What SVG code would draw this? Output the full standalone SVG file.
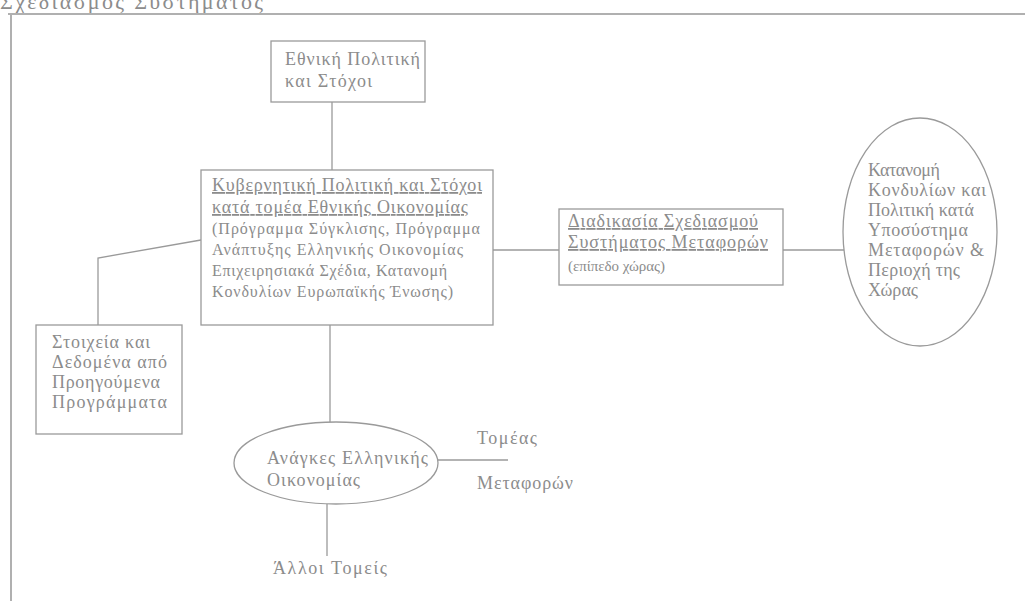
<svg xmlns="http://www.w3.org/2000/svg" width="1025" height="601" viewBox="0 0 1025 601">
<style>
text{font-family:"Liberation Serif","DejaVu Serif",serif;fill:#8c8c8c;font-size:18px}
.u{text-decoration:underline}
.s{font-size:16px}
.xs{font-size:15px}
.box{fill:#fff;stroke:#9a9a9a;stroke-width:1.3}
.ln{fill:none;stroke:#9a9a9a;stroke-width:1.3}
.frame{fill:none;stroke:#b0b0b0;stroke-width:2}
</style>
<rect width="1025" height="601" fill="#fff"/>
<text x="0" y="9" style="font-size:22px" textLength="263" lengthAdjust="spacing">Σχεδιασμός Συστήματος</text>
<path class="frame" d="M8,14 H1025 M11,14 V601"/>
<g id="connectors">
<path class="ln" d="M332,102 V170"/>
<path class="ln" d="M201,240 L98,258 V325"/>
<path class="ln" d="M493,250 H559"/>
<path class="ln" d="M783,250 H844"/>
<path class="ln" d="M330,325 V422"/>
<path class="ln" d="M327,504 V556"/>
<path class="ln" d="M438,460 H508"/>
</g>
<g id="national">
<rect class="box" x="271" y="41" width="154" height="61"/>
<text x="285" y="65" textLength="135" lengthAdjust="spacing">Εθνική Πολιτική</text>
<text x="285" y="87" textLength="87" lengthAdjust="spacing">και  Στόχοι</text>
</g>
<g id="government">
<rect class="box" x="201" y="170" width="292" height="155"/>
<text class="u" x="212" y="191" textLength="270" lengthAdjust="spacing">Κυβερνητική Πολιτική και Στόχοι</text>
<text class="u" x="212" y="213" textLength="256" lengthAdjust="spacing">κατά τομέα Εθνικής Οικονομίας</text>
<text class="s" x="212" y="234" textLength="268" lengthAdjust="spacing">(Πρόγραμμα Σύγκλισης, Πρόγραμμα</text>
<text class="s" x="212" y="255" textLength="251" lengthAdjust="spacing">Ανάπτυξης Ελληνικής Οικονομίας</text>
<text class="s" x="212" y="276" textLength="235" lengthAdjust="spacing">Επιχειρησιακά Σχέδια, Κατανομή</text>
<text class="s" x="212" y="297" textLength="241" lengthAdjust="spacing">Κονδυλίων Ευρωπαϊκής Ένωσης)</text>
</g>
<g id="data">
<rect class="box" x="36" y="325" width="146" height="109"/>
<text x="52" y="348" textLength="98" lengthAdjust="spacing">Στοιχεία και</text>
<text x="52" y="368" textLength="115" lengthAdjust="spacing">Δεδομένα από</text>
<text x="52" y="388" textLength="108" lengthAdjust="spacing">Προηγούμενα</text>
<text x="52" y="408" textLength="115" lengthAdjust="spacing">Προγράμματα</text>
</g>
<g id="planning">
<rect class="box" x="559" y="209" width="224" height="76"/>
<text class="u" x="568" y="227" textLength="190" lengthAdjust="spacing">Διαδικασία Σχεδιασμού</text>
<text class="u" x="568" y="248" textLength="200" lengthAdjust="spacing">Συστήματος Μεταφορών</text>
<text class="xs" x="568" y="271" textLength="97" lengthAdjust="spacing">(επίπεδο χώρας)</text>
</g>
<g id="allocation">
<ellipse class="box" cx="920" cy="232" rx="77" ry="114"/>
<text x="868" y="176" textLength="72" lengthAdjust="spacing">Κατανομή</text>
<text x="868" y="196" textLength="118" lengthAdjust="spacing">Κονδυλίων και</text>
<text x="868" y="216" textLength="106" lengthAdjust="spacing">Πολιτική κατά</text>
<text x="868" y="236" textLength="100" lengthAdjust="spacing">Υποσύστημα</text>
<text x="868" y="256" textLength="116" lengthAdjust="spacing">Μεταφορών &amp;</text>
<text x="868" y="276" textLength="92" lengthAdjust="spacing">Περιοχή της</text>
<text x="868" y="296" textLength="50" lengthAdjust="spacing">Χώρας</text>
</g>
<g id="needs">
<ellipse class="box" cx="336" cy="463" rx="102" ry="41"/>
<text x="267" y="464" textLength="161" lengthAdjust="spacing">Ανάγκες Ελληνικής</text>
<text x="267" y="486" textLength="93" lengthAdjust="spacing">Οικονομίας</text>
</g>
<g id="labels">
<text x="477" y="444" textLength="60" lengthAdjust="spacing">Τομέας</text>
<text x="477" y="489" textLength="96" lengthAdjust="spacing">Μεταφορών</text>
<text x="273" y="574" textLength="114" lengthAdjust="spacing">Άλλοι Τομείς</text>
</g>
</svg>
